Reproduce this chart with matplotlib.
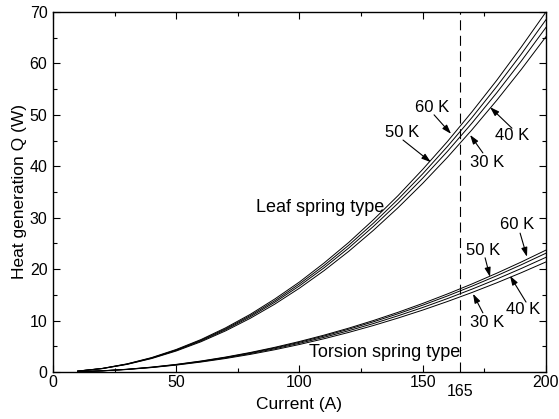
import matplotlib
matplotlib.use("Agg")
import matplotlib.pyplot as plt
from matplotlib.ticker import MultipleLocator

plt.rcParams['font.family'] = ['Liberation Sans', 'DejaVu Sans']

# Current (A)
current = [10, 20, 30, 40, 50, 60, 70, 80, 90, 100, 110, 120, 130, 140, 150, 160, 170, 180, 190, 200]

# Leaf spring type, heat generation Q (W)
leaf_60K = [0.18, 0.70, 1.58, 2.80, 4.38, 6.30, 8.58, 11.2, 14.2, 17.5, 21.2, 25.2, 29.6, 34.3, 39.4, 44.8, 50.6, 56.7, 63.2, 70.0]
leaf_50K = [0.17, 0.69, 1.54, 2.74, 4.28, 6.17, 8.39, 10.96, 13.87, 17.13, 20.72, 24.66, 28.94, 33.57, 38.53, 43.84, 49.49, 55.49, 61.82, 68.5]
leaf_40K = [0.17, 0.67, 1.51, 2.68, 4.19, 6.03, 8.21, 10.72, 13.57, 16.75, 20.27, 24.12, 28.31, 32.83, 37.69, 42.88, 48.41, 54.27, 60.47, 67.0]
leaf_30K = [0.16, 0.65, 1.47, 2.61, 4.08, 5.87, 7.99, 10.43, 13.20, 16.30, 19.72, 23.47, 27.55, 31.95, 36.68, 41.73, 47.11, 52.81, 58.84, 65.2]

# Torsion spring type, heat generation Q (W)
tors_60K = [0.06, 0.24, 0.53, 0.95, 1.48, 2.13, 2.90, 3.79, 4.80, 5.93, 7.17, 8.53, 10.01, 11.61, 13.33, 15.17, 17.12, 19.20, 21.39, 23.7]
tors_50K = [0.06, 0.23, 0.52, 0.92, 1.44, 2.08, 2.83, 3.70, 4.68, 5.78, 6.99, 8.32, 9.76, 11.32, 12.99, 14.78, 16.69, 18.71, 20.85, 23.1]
tors_40K = [0.06, 0.22, 0.50, 0.89, 1.39, 2.01, 2.73, 3.57, 4.52, 5.58, 6.75, 8.03, 9.42, 10.93, 12.54, 14.27, 16.11, 18.06, 20.13, 22.3]
tors_30K = [0.05, 0.21, 0.48, 0.86, 1.34, 1.93, 2.62, 3.42, 4.33, 5.35, 6.47, 7.70, 9.04, 10.49, 12.04, 13.70, 15.46, 17.33, 19.31, 21.4]

design_current = 165
x_ticks = [0, 50, 100, 150, 200]
y_ticks = [0, 10, 20, 30, 40, 50, 60, 70]

# Temperature labels: (text, label position, arrow start, arrow tip)
leaf_labels = [("60 K", (153.8, 51.5), (154.6, 50.0), (161.5, 46.3)),
               ("50 K", (141.6, 46.5), (142.0, 45.1), (153.3, 40.8)),
               ("40 K", (186.2, 45.9), (186.2, 47.4), (177.3, 51.5)),
               ("30 K", (176.1, 40.8), (174.4, 42.6), (169.2, 46.1))]
tors_labels = [("60 K", (188.2, 28.6), (189.5, 27.0), (192.3, 22.4)),
               ("50 K", (174.4, 23.7), (175.3, 22.2), (177.3, 18.5)),
               ("40 K", (190.7, 12.1), (191.9, 13.6), (185.4, 18.7)),
               ("30 K", (176.1, 9.7), (174.4, 11.5), (170.4, 15.2))]

fig = plt.figure(figsize=(5.59, 4.19), dpi=100)
ax = fig.add_axes([0.0948, 0.1122, 0.8819, 0.8592])

for series in (leaf_60K, leaf_50K, leaf_40K, leaf_30K, tors_60K, tors_50K, tors_40K, tors_30K):
    ax.plot(current, series, color='black', lw=0.7)

ax.axvline(design_current, color='black', lw=0.8, dashes=(9, 5))

for txt, pos, start, tip in leaf_labels + tors_labels:
    ax.text(pos[0], pos[1], txt, ha='center', va='center', fontsize=12)
    ax.annotate("", xy=tip, xytext=start,
                arrowprops=dict(arrowstyle='-|>,head_length=0.55,head_width=0.18',
                                color='black', lw=0.8, shrinkA=0, shrinkB=0))

ax.text(108.3, 31.9, "Leaf spring type", ha='center', va='center', fontsize=13)
ax.text(134.7, 3.7, "Torsion spring type", ha='center', va='center', fontsize=13)

ax.set_xlim(0, 200)
ax.set_ylim(0, 70)
ax.set_xticks(x_ticks)
ax.set_yticks(y_ticks)
ax.xaxis.set_minor_locator(MultipleLocator(25))
ax.yaxis.set_minor_locator(MultipleLocator(5))
ax.tick_params(which='both', direction='in', top=True, right=True, labelsize=11.5)
ax.tick_params(axis='x', pad=2)
ax.tick_params(axis='y', pad=4)
ax.tick_params(which='major', length=5, width=0.8)
ax.tick_params(which='minor', length=3, width=0.8)
ax.text(design_current, -2.4, str(design_current), ha='center', va='top', fontsize=11.5,
        transform=ax.transData)

ax.set_xlabel("Current (A)", fontsize=12.5, labelpad=5)
ax.set_ylabel("Heat generation Q (W)", fontsize=12.5, labelpad=2)
for s in ax.spines.values():
    s.set_linewidth(1.0)

fig.savefig("out.png", dpi=100)
